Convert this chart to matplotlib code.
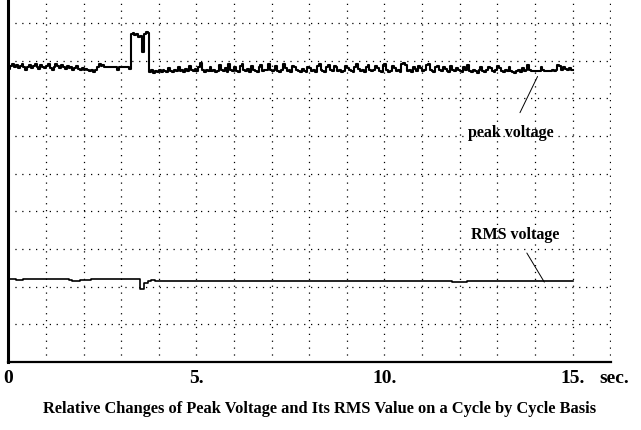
import numpy as np
import matplotlib
matplotlib.use("Agg")
import matplotlib.pyplot as plt

# peak voltage sampled every 0.05 s, 0 .. 15 s (grid units)
t_peak = np.arange(301) / 20.0
peak = [7.78, 7.86, 7.90, 7.84, 7.88, 7.80, 7.86, 7.92, 7.82, 7.76, 7.84, 7.88, 7.80, 7.86, 7.90, 7.82, 7.78, 7.88, 7.84, 7.80,
        7.86, 7.90, 7.80, 7.76, 7.84, 7.90, 7.86, 7.80, 7.88, 7.82, 7.78, 7.86, 7.80, 7.84, 7.76, 7.80, 7.86, 7.78, 7.74, 7.80,
        7.76, 7.78, 7.74, 7.72, 7.76, 7.70, 7.74, 7.84, 7.90, 7.86, 7.88, 7.84, 7.82, 7.82, 7.82, 7.82, 7.82, 7.82, 7.76, 7.82,
        7.82, 7.82, 7.82, 7.82, 7.78, 8.70, 8.74, 8.68, 8.70, 8.64, 8.66, 8.22, 8.70, 8.76, 8.74, 7.70, 7.74, 7.66, 7.72, 7.70,
        7.74, 7.70, 7.76, 7.72, 7.70, 7.80, 7.72, 7.70, 7.76, 7.72, 7.84, 7.72, 7.74, 7.70, 7.78, 7.72, 7.86, 7.74, 7.72, 7.78,
        7.72, 7.82, 7.94, 7.76, 7.70, 7.74, 7.72, 7.84, 7.72, 7.76, 7.70, 7.72, 7.88, 7.74, 7.72, 7.80, 7.70, 7.92, 7.76, 7.72,
        7.84, 7.72, 7.70, 7.86, 7.90, 7.74, 7.72, 7.78, 7.70, 7.86, 7.74, 7.72, 7.70, 7.84, 7.88, 7.72, 7.76, 7.74, 7.92, 7.76,
        7.72, 7.74, 7.86, 7.72, 7.70, 7.76, 7.90, 7.80, 7.72, 7.74, 7.70, 7.86, 7.82, 7.74, 7.72, 7.70, 7.78, 7.72, 7.70, 7.84,
        7.80, 7.72, 7.74, 7.70, 7.86, 7.92, 7.74, 7.72, 7.70, 7.84, 7.88, 7.76, 7.72, 7.86, 7.82, 7.72, 7.74, 7.70, 7.72, 7.86,
        7.80, 7.74, 7.72, 7.70, 7.84, 7.90, 7.78, 7.72, 7.74, 7.70, 7.82, 7.88, 7.74, 7.72, 7.76, 7.86, 7.80, 7.72, 7.70, 7.88,
        7.92, 7.74, 7.70, 7.72, 7.86, 7.80, 7.72, 7.74, 7.70, 7.90, 7.94, 7.88, 7.72, 7.74, 7.70, 7.84, 7.78, 7.72, 7.86, 7.80,
        7.72, 7.74, 7.88, 7.92, 7.76, 7.72, 7.70, 7.82, 7.86, 7.74, 7.72, 7.84, 7.78, 7.72, 7.70, 7.86, 7.74, 7.72, 7.80, 7.76,
        7.72, 7.70, 7.84, 7.74, 7.88, 7.72, 7.70, 7.76, 7.72, 7.66, 7.74, 7.82, 7.72, 7.70, 7.76, 7.84, 7.80, 7.72, 7.70, 7.74,
        7.86, 7.80, 7.72, 7.70, 7.74, 7.72, 7.82, 7.72, 7.70, 7.68, 7.72, 7.74, 7.70, 7.80, 7.72, 7.74, 7.88, 7.76, 7.72, 7.72,
        7.72, 7.72, 7.72, 7.82, 7.74, 7.72, 7.72, 7.72, 7.72, 7.74, 7.72, 7.74, 7.88, 7.86, 7.74, 7.82, 7.78, 7.74, 7.80, 7.76,
        7.76]

# RMS voltage sampled every 0.1 s (grid units)
t_rms = np.arange(151) / 10.0
rms = [2.20, 2.20, 2.19, 2.19, 2.20, 2.20, 2.21, 2.21, 2.20, 2.20,
       2.20, 2.20, 2.20, 2.21, 2.21, 2.20, 2.19, 2.16, 2.16, 2.17,
       2.17, 2.19, 2.21, 2.21, 2.20, 2.21, 2.20, 2.20, 2.21, 2.20,
       2.20, 2.20, 2.20, 2.20, 2.20, 1.94, 2.10, 2.14, 2.17, 2.14,
       2.14, 2.14, 2.14, 2.14, 2.14, 2.14, 2.14, 2.14, 2.14, 2.14,
       2.14, 2.14, 2.14, 2.14, 2.14, 2.14, 2.14, 2.14, 2.14, 2.14,
       2.14, 2.14, 2.14, 2.14, 2.14, 2.14, 2.14, 2.14, 2.14, 2.14,
       2.14, 2.16, 2.16, 2.14, 2.16, 2.14, 2.14, 2.14, 2.14, 2.16,
       2.16, 2.16, 2.14, 2.14, 2.14, 2.14, 2.14, 2.16, 2.14, 2.14,
       2.14, 2.14, 2.14, 2.14, 2.14, 2.14, 2.14, 2.14, 2.14, 2.14,
       2.14, 2.14, 2.16, 2.14, 2.14, 2.14, 2.14, 2.14, 2.14, 2.14,
       2.14, 2.16, 2.16, 2.16, 2.14, 2.14, 2.14, 2.14, 2.12, 2.12,
       2.12, 2.12, 2.14, 2.14, 2.14, 2.14, 2.14, 2.14, 2.14, 2.14,
       2.14, 2.14, 2.14, 2.14, 2.14, 2.14, 2.14, 2.14, 2.14, 2.14,
       2.14, 2.14, 2.14, 2.14, 2.14, 2.14, 2.14, 2.14, 2.14, 2.14,
       2.14]

xtick_pos = list(range(0, 17))
xtick_txt = {0: "0", 5: "5.", 10: "10.", 15: "15."}
title = "Relative Changes of Peak Voltage and Its RMS Value on a Cycle by Cycle Basis"

serif = ["Liberation Serif", "DejaVu Serif"]

fig = plt.figure(figsize=(6.41, 4.31), dpi=100)
ax = fig.add_axes([8.4 / 641, 68 / 431, 602.5 / 641, 363 / 431])

ax.plot(t_peak, peak, color="black", lw=1.5, drawstyle="steps-post")
ax.plot(t_rms, rms, color="black", lw=1.2, drawstyle="steps-post")

ax.set_xlim(0, 16.02)
ax.set_ylim(0, 9.636)
ax.set_xticks(xtick_pos)
ax.set_xticklabels([xtick_txt.get(v, "") for v in xtick_pos],
                   family=serif, fontweight="bold", fontsize=14)
ax.set_yticks(range(0, 10))
ax.set_yticklabels([])
ax.tick_params(length=0, pad=5)
ax.grid(True, color="black", lw=0.9, linestyle=(0, (1, 4.5)))

for s in ["top", "right"]:
    ax.spines[s].set_visible(False)
ax.spines["left"].set_linewidth(2.2)
ax.spines["bottom"].set_linewidth(1.6)

# labels with leader lines
ax.annotate("peak voltage", xy=(14.07, 7.58), xytext=(13.35, 6.1),
            ha="center", va="center", family=serif, fontweight="bold", fontsize=11.5,
            arrowprops=dict(arrowstyle="-", color="black", lw=0.7, shrinkA=7, shrinkB=0))
ax.annotate("RMS voltage", xy=(14.25, 2.12), xytext=(13.48, 3.4),
            ha="center", va="center", family=serif, fontweight="bold", fontsize=11.5,
            arrowprops=dict(arrowstyle="-", color="black", lw=0.7, shrinkA=7, shrinkB=0))

# unit label on the same line as the tick labels
ax.annotate("sec.", xy=(16.1, 0), xycoords=("data", "axes fraction"),
            xytext=(0, -5), textcoords="offset points", ha="center", va="top",
            family=serif, fontweight="bold", fontsize=14, annotation_clip=False)
fig.text(320 / 641, 1 - 409 / 431, title, ha="center", va="center",
         family=serif, fontweight="bold", fontsize=11.8)

fig.savefig("out.png", dpi=100)
